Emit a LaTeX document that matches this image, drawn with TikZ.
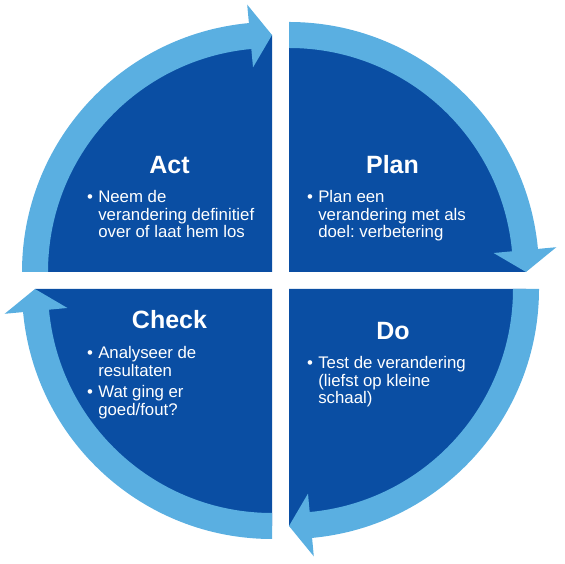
\documentclass[tikz,border=0pt]{standalone}
\usepackage{fontspec}
\setmainfont{Liberation Sans}
\frenchspacing
\definecolor{pdcadark}{HTML}{0A4EA3}
\definecolor{pdcalight}{HTML}{5AAFE1}
\usetikzlibrary{calc}

\begin{document}
\begin{tikzpicture}[
  x=1pt, y=1pt,
  quad/.style={fill=pdcadark},
  band/.style={fill=pdcalight},
  phase/.style={text=white, font=\fontsize{25}{30}\selectfont\bfseries,
                anchor=base, inner sep=0pt},
  body/.style={text=white, font=\fontsize{16.8}{17.5}\selectfont,
               anchor=base west, inner sep=0pt},
]
\useasboundingbox (0,0) rectangle (564,564);

\coordinate (actc)   at (272,292);
\coordinate (planc)  at (289,292);
\coordinate (doc)    at (289,275);
\coordinate (checkc) at (272,275);

\foreach \c/\a in {actc/180, planc/90, doc/0, checkc/-90} {
  \fill[quad, shift={(\c)}] (0,0) -- (\a:237pt)
    arc[start angle=\a, end angle=\a-90, radius=237pt] -- cycle;
  \fill[band, shift={(\c)}] (\a:250pt)
    arc[start angle=\a, end angle=\a-84.7, radius=250pt]
    -- (\a-84.7:268.5pt) -- (\a-90:237pt) -- (\a-84.7:205.5pt)
    -- (\a-84.7:224pt)
    arc[start angle=\a-84.7, end angle=\a, radius=224pt] -- cycle;
}

\node[phase] (act) at (169.5,390) {Act};
\node[body] (actbody) at (87,361) {\begin{tabular}[t]{@{}l@{\hspace{5.2pt}}l@{}}
  \textbullet & Neem de\\
              & verandering definitief\\
              & over of laat hem los
\end{tabular}};

\node[phase] (plan) at (392.5,390) {Plan};
\node[body] (planbody) at (307,361) {\begin{tabular}[t]{@{}l@{\hspace{5.2pt}}l@{}}
  \textbullet & Plan een\\
              & verandering met als\\
              & doel: verbetering
\end{tabular}};

\node[phase] (check) at (169.5,235) {Check};
\node[body] (checkbody) at (87,205) {\begin{tabular}[t]{@{}l@{\hspace{5.2pt}}l@{}}
  \textbullet & Analyseer de\\
              & resultaten\\[4pt]
  \textbullet & Wat ging er\\
              & goed/fout?
\end{tabular}};

\node[phase] (do) at (393,224) {Do};
\node[body] (dobody) at (307,195) {\begin{tabular}[t]{@{}l@{\hspace{5.2pt}}l@{}}
  \textbullet & Test de verandering\\
              & (liefst op kleine\\
              & schaal)
\end{tabular}};
\end{tikzpicture}
\end{document}
